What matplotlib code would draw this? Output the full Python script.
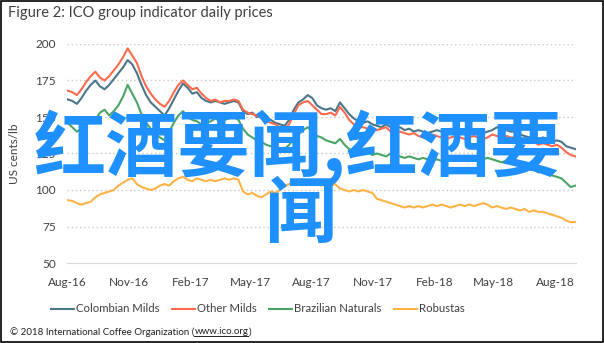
import numpy as np
import pandas as pd
import matplotlib
matplotlib.use("Agg")
from matplotlib import pyplot as plt
import matplotlib.dates as mdates

plt.rcParams['font.family'] = ['Lato', 'DejaVu Sans']

# weekly-ish readings, Aug 2016 - end Aug 2018 (US cents/lb)
colombian = [162, 161, 159, 163, 168, 172, 175, 171, 169, 172, 176, 180, 184, 189, 186, 180, 172, 165, 160, 157,
             154, 151, 156, 162, 168, 173, 170, 166, 167, 163, 161, 160, 161, 160, 159, 160, 161, 160, 154, 152,
             153, 150, 151, 149, 148, 146, 145, 144, 148, 155, 160, 162, 165, 163, 158, 156, 155, 156, 154, 160,
             156, 152, 149, 147, 146, 147, 145, 144, 143, 145, 143, 142, 143, 141, 142, 140, 141, 140, 139, 140,
             141, 140, 141, 142, 141, 140, 140, 139, 141, 140, 139, 140, 141, 143, 142, 141, 140, 140, 138, 137,
             136, 137, 135, 136, 135, 133, 134, 133, 130, 129, 128]
other_milds = [168, 167, 165, 169, 174, 178, 181, 177, 175, 178, 182, 186, 191, 197, 192, 187, 178, 171, 166, 162,
               159, 157, 161, 167, 172, 175, 172, 169, 170, 166, 163, 161, 162, 160, 161, 161, 162, 161, 155, 153,
               152, 151, 150, 148, 146, 145, 143, 142, 145, 152, 158, 160, 161, 158, 155, 152, 152, 153, 151, 157,
               153, 148, 145, 143, 143, 142, 143, 141, 142, 143, 140, 139, 140, 139, 138, 139, 137, 136, 137, 138,
               137, 136, 135, 136, 137, 136, 135, 136, 137, 136, 135, 136, 138, 137, 136, 137, 136, 136, 134, 133,
               132, 133, 131, 132, 131, 130, 131, 129, 126, 124, 123]
brazilian = [146, 143, 140, 142, 146, 150, 148, 153, 155, 151, 154, 158, 164, 172, 166, 160, 152, 146, 142, 138,
             136, 134, 140, 146, 151, 154, 150, 148, 147, 145, 146, 147, 149, 147, 148, 149, 150, 148, 142, 138,
             136, 134, 133, 131, 130, 129, 128, 128, 131, 135, 138, 141, 143, 140, 137, 136, 134, 133, 132, 135,
             131, 128, 127, 126, 125, 126, 124, 125, 124, 123, 125, 124, 123, 122, 123, 122, 121, 122, 121, 120,
             121, 120, 121, 120, 121, 122, 121, 120, 121, 122, 121, 122, 121, 120, 119, 120, 119, 118, 116, 115,
             114, 114, 112, 113, 111, 110, 109, 108, 105, 102, 103]
robustas = [93, 92.5, 91, 90, 91, 92, 95, 97, 98, 99, 100, 103, 105, 107, 108, 104, 102, 101, 100, 101,
            103, 104, 103, 106, 108, 109, 107, 106, 108, 107, 106, 107, 106, 107, 108, 107, 108, 107, 99, 97,
            98, 96, 95, 97, 99, 98, 100, 103, 104, 106, 105, 107, 106, 105, 104, 103, 104, 103, 104, 101,
            100, 99, 100, 99, 100, 99, 98, 94, 93, 92, 91, 90, 89, 88, 89, 88, 89, 88, 89, 90,
            89, 90, 89, 88, 89, 90, 89, 90, 89, 90, 91, 90, 88, 89, 88, 87, 88, 87, 86, 87,
            85, 86, 85, 85, 84, 83, 82, 81, 79, 78, 78]

dates = pd.date_range('2016-08-01', '2018-08-31', periods=len(colombian))
series_names = ['Colombian Milds', 'Other Milds', 'Brazilian Naturals', 'Robustas']
series_vals = [colombian, other_milds, brazilian, robustas]
colors = ['#4b7589', '#ff6a4d', '#4aa564', '#ffb347']

fig = plt.figure(figsize=(6.04, 3.43), dpi=100)
ax = fig.add_axes([67/604, 80/343, 509/604, 219/343])

for name, vals, c in zip(series_names, series_vals, colors):
    ax.plot(dates, vals, color=c, lw=1.5, label=name)

ax.set_ylim(50, 200)
ax.set_yticks([50, 75, 100, 125, 150, 175, 200])
ax.set_xlim(pd.Timestamp('2016-07-31'), pd.Timestamp('2018-09-01'))
ticks = pd.date_range('2016-08-01', '2018-08-01', freq='3MS')
ax.set_xticks(ticks)
ax.xaxis.set_major_formatter(mdates.DateFormatter('%b-%y'))

for v in [75, 100, 125, 150, 175, 200]:
    ax.axhline(v, color='#c8c8c8', lw=1, ls=(0, (1, 2)), zorder=0)
for s in ['top', 'right', 'left']:
    ax.spines[s].set_visible(False)
ax.spines['bottom'].set_color('#d9d9d9')
ax.tick_params(length=0, labelsize=8.5, labelcolor='#404040')
ax.tick_params(axis='x', pad=10)
ax.tick_params(axis='y', pad=8)
ax.set_ylabel('US cents/lb', fontsize=8.5, color='#404040', labelpad=11)

fig.text(8/604, 1 - 13/343, 'Figure 2: ICO group indicator daily prices', fontsize=10.5,
         color='#404040', va='center', ha='left')

leg = fig.legend(loc='center', bbox_to_anchor=(258/604, 1 - 309/343), ncol=4, frameon=False,
                 fontsize=8.2, handlelength=2.0, handletextpad=0.2, columnspacing=1.1)
for t in leg.get_texts():
    t.set_color('#404040')

# copyright line with underlined url
fig.canvas.draw()
r = fig.canvas.get_renderer()
t1 = fig.text(10/604, 1 - 332/343, '\u00a9 2018 International Coffee Organization (', fontsize=7,
              color='#202020', va='center')
bb = t1.get_window_extent(r)
t2 = fig.text(bb.x1 / 604, 1 - 332/343, 'www.ico.org', fontsize=7, color='#202020', va='center')
bb2 = t2.get_window_extent(r)
fig.text(bb2.x1 / 604, 1 - 332/343, ')', fontsize=7, color='#202020', va='center')
fig.add_artist(plt.Line2D([bb2.x0 / 604, bb2.x1 / 604], [(bb2.y0 + 1) / 343] * 2, color='#202020', lw=0.7))

# watermark
fig.text(298/604, 1 - 148/343, '红酒要闻,红酒要', fontsize=52, fontweight='bold', color='#1e90ff',
         family=['Noto Sans CJK SC', 'DejaVu Sans'], ha='center', va='center')
fig.text(300/604, 1 - 216/343, '闻', fontsize=52, fontweight='bold', color='#1e90ff',
         family=['Noto Sans CJK SC', 'DejaVu Sans'], ha='center', va='center')

# outer frame
fig.add_artist(plt.Rectangle((0.001, 0.002), 0.997, 0.996, fill=False, ec='black', lw=1.2,
                             transform=fig.transFigure))

fig.savefig('out.png', dpi=100)
